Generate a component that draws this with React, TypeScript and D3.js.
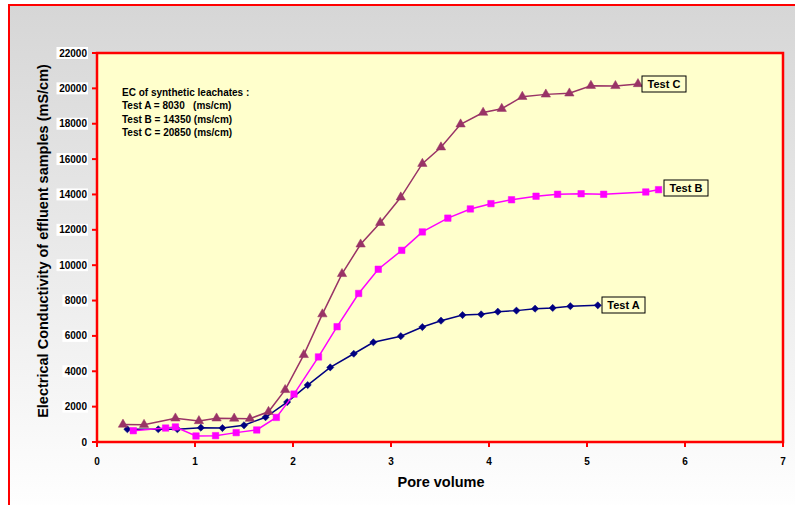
import React from "react";
import * as d3 from "d3";

const testAX = [0.31, 0.625, 0.82, 1.06, 1.28, 1.5, 1.72, 1.94, 2.15, 2.38, 2.62, 2.82, 3.1, 3.32, 3.51, 3.73, 3.92, 4.09, 4.28, 4.47, 4.65, 4.83, 5.11];
const testAY = [720, 720, 720, 810, 790, 945, 1400, 2260, 3220, 4220, 4990, 5640, 5985, 6500, 6860, 7180, 7220, 7370, 7430, 7540, 7580, 7680, 7730];

const testBX = [0.37, 0.7, 0.8, 1.01, 1.21, 1.42, 1.63, 1.83, 2.01, 2.26, 2.45, 2.67, 2.87, 3.11, 3.32, 3.58, 3.81, 4.02, 4.23, 4.48, 4.7, 4.94, 5.17, 5.6, 5.73];
const testBY = [640, 790, 850, 340, 360, 530, 680, 1390, 2710, 4810, 6520, 8400, 9770, 10840, 11880, 12660, 13180, 13480, 13700, 13900, 14010, 14040, 14010, 14140, 14270];

const testCX = [0.265, 0.48, 0.8, 1.04, 1.22, 1.4, 1.56, 1.75, 1.92, 2.11, 2.3, 2.5, 2.69, 2.89, 3.1, 3.32, 3.51, 3.71, 3.94, 4.13, 4.34, 4.58, 4.82, 5.04, 5.29, 5.52];
const testCY = [990, 980, 1340, 1190, 1340, 1330, 1320, 1710, 2950, 4930, 7230, 9510, 11180, 12400, 13840, 15740, 16670, 17970, 18630, 18850, 19530, 19660, 19720, 20150, 20140, 20250];

const xTicks = [0, 1, 2, 3, 4, 5, 6, 7];
const yTicks = [0, 2000, 4000, 6000, 8000, 10000, 12000, 14000, 16000, 18000, 20000, 22000];

const noteLines = [
  "EC of synthetic leachates :",
  "Test A = 8030   (ms/cm)",
  "Test B = 14350 (ms/cm)",
  "Test C = 20850 (ms/cm)",
];

const seriesNames = ["Test A", "Test B", "Test C"];

const FONT = "Arial, 'Liberation Sans', sans-serif";

export default function App() {
  const W = 795, H = 505;
  const left = 97, right = 783, top = 53, bottom = 442;
  const x = d3.scaleLinear().domain([0, 7]).range([left, right]);
  const y = d3.scaleLinear().domain([0, 22000]).range([bottom, top]);
  const line = d3.line<[number, number]>().x(d => x(d[0])).y(d => y(d[1]));

  const series = [
    { name: seriesNames[0], xs: testAX, ys: testAY, color: "#000080", marker: "diamond" },
    { name: seriesNames[1], xs: testBX, ys: testBY, color: "#ff00ff", marker: "square" },
    { name: seriesNames[2], xs: testCX, ys: testCY, color: "#993366", marker: "triangle" },
  ];

  const markerPath = (m: string) => {
    if (m === "diamond") return "M0,-3.6L3.6,0L0,3.6L-3.6,0Z";
    if (m === "square") return d3.symbol(d3.symbolSquare, 42)()!;
    return d3.symbol(d3.symbolTriangle, 38)()!;
  };

  const labelPos = [
    { x: 602, y: 297, w: 43, h: 16 },
    { x: 664, y: 180, w: 44, h: 16 },
    { x: 642, y: 76, w: 44, h: 16 },
  ];

  return (
    <svg width={W} height={H} style={{ position: "absolute", left: 0, top: 0 }} fontFamily={FONT}>
      <defs>
        <linearGradient id="bg" x1="0" y1="0" x2="0" y2="1">
          <stop offset="0" stopColor="#d6d6d6" />
          <stop offset="1" stopColor="#ffffff" />
        </linearGradient>
      </defs>
      <rect x={9} y={5} width={800} height={510} fill="url(#bg)" stroke="#ff0000" strokeWidth={2} />
      <rect x={left} y={top} width={right - left} height={bottom - top} fill="#ffffcc" stroke="#ff0000" strokeWidth={2.5} />

      {yTicks.map(t => (
        <g key={"y" + t}>
          <line x1={left - 5} x2={left} y1={y(t)} y2={y(t)} stroke="#ff0000" strokeWidth={2} />
          <rect x={87 - (String(t).length * 5.9) - 1} y={y(t) - 6} width={String(t).length * 5.9 + 2} height={12} fill="#ffffff" />
          <text x={87} y={y(t)} dy="0.35em" textAnchor="end" fontSize={10} fontWeight="bold" fill="#000">{t}</text>
        </g>
      ))}
      {xTicks.map(t => (
        <g key={"x" + t}>
          <line x1={x(t)} x2={x(t)} y1={bottom} y2={bottom + 5} stroke="#ff0000" strokeWidth={2} />
          <text x={x(t)} y={461} dy="0.35em" textAnchor="middle" fontSize={10} fontWeight="bold" fill="#000">{t}</text>
        </g>
      ))}

      <text x={441} y={482} dy="0.35em" textAnchor="middle" fontSize={14.5} fontWeight="bold" fill="#000">Pore volume</text>
      <text transform={`translate(43,241) rotate(-90)`} textAnchor="middle" dy="0.35em" fontSize={14.5} fontWeight="bold" fill="#000">
        Electrical Conductivity of effluent samples (mS/cm)
      </text>

      {noteLines.map((s, i) => (
        <text key={s} x={122} y={[92, 105, 119, 132][i]} dy="0.35em" fontSize={10} fontWeight="bold" fill="#000" style={{ whiteSpace: "pre" }}>{s}</text>
      ))}

      {series.map(s => {
        const pts: [number, number][] = s.xs.map((v, i) => [v, s.ys[i]]);
        return (
          <g key={s.name}>
            <path d={line(pts)!} fill="none" stroke={s.color} strokeWidth={1.5} />
            {pts.map((p, i) => (
              <path key={i} d={markerPath(s.marker)} transform={`translate(${x(p[0])},${y(p[1])})`} fill={s.color} stroke={s.color} strokeWidth={0.5} />
            ))}
          </g>
        );
      })}

      {series.map((s, i) => (
        <g key={"lbl" + s.name}>
          <rect x={labelPos[i].x} y={labelPos[i].y} width={labelPos[i].w} height={labelPos[i].h} fill="#ffffcc" stroke="#000" strokeWidth={1} />
          <text x={labelPos[i].x + labelPos[i].w / 2} y={labelPos[i].y + labelPos[i].h / 2} dy="0.35em" textAnchor="middle" fontSize={11} fontWeight="bold" fill="#000">{s.name}</text>
        </g>
      ))}
    </svg>
  );
}
